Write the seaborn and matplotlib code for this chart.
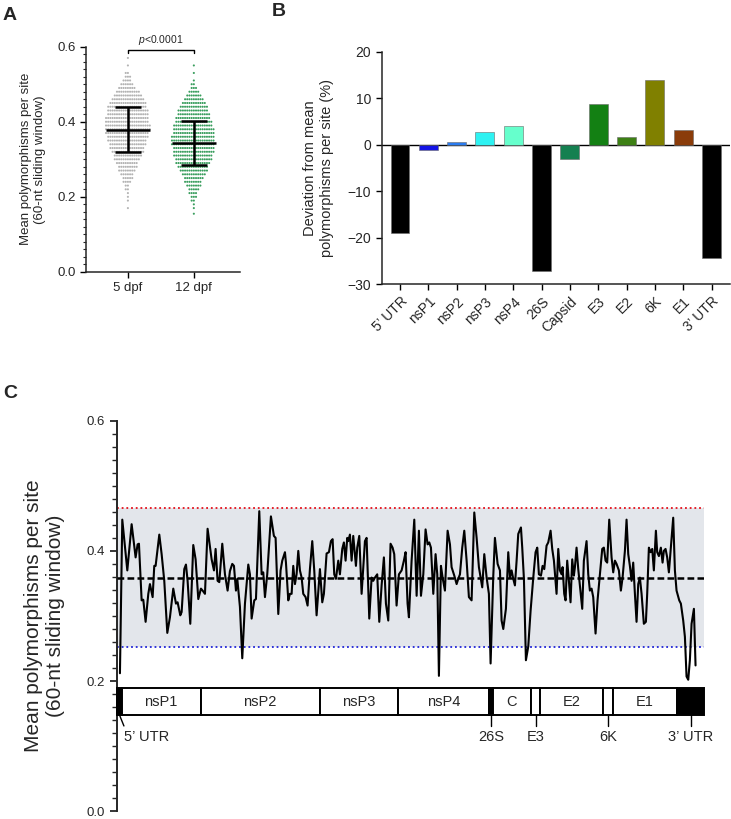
import numpy as np
import pandas as pd
import matplotlib
matplotlib.use("Agg")
import matplotlib.pyplot as plt
import seaborn as sns
from matplotlib.patches import Rectangle
from matplotlib.ticker import MultipleLocator

sns.set_style("ticks")
plt.rcParams["font.family"] = ["Liberation Sans", "DejaVu Sans"]
plt.rcParams["mathtext.fontset"] = "custom"
plt.rcParams["mathtext.it"] = "Liberation Sans:italic"
plt.rcParams["mathtext.rm"] = "Liberation Sans"

# ---------------- Panel A data (binned swarm) ----------------
groups = ["5 dpf", "12 dpf"]
bins_5dpf = [0.57, 0.55, 0.53, 0.52, 0.51, 0.50, 0.49, 0.48, 0.47, 0.46, 0.45, 0.44, 0.43,
             0.42, 0.41, 0.40, 0.39, 0.38, 0.37, 0.36, 0.35, 0.34, 0.33, 0.32, 0.31, 0.30,
             0.29, 0.28, 0.27, 0.26, 0.25, 0.24, 0.23, 0.22, 0.21, 0.20, 0.19, 0.17]
counts_5dpf = [1, 1, 2, 3, 4, 6, 8, 11, 13, 15, 17, 18, 19,
               19, 20, 20, 21, 21, 20, 19, 18, 17, 16, 15, 13, 12,
               10, 9, 8, 6, 5, 4, 2, 2, 1, 1, 1, 1]
bins_12dpf = [0.55, 0.53, 0.51, 0.50, 0.49, 0.48, 0.47, 0.46, 0.45, 0.44, 0.43, 0.42, 0.41,
              0.40, 0.39, 0.38, 0.37, 0.36, 0.35, 0.34, 0.33, 0.32, 0.31, 0.30, 0.29, 0.28,
              0.27, 0.26, 0.25, 0.24, 0.23, 0.22, 0.21, 0.20, 0.19, 0.18, 0.17, 0.155]
counts_12dpf = [1, 1, 1, 2, 3, 5, 7, 9, 11, 13, 14, 15, 16,
                17, 18, 19, 19, 20, 20, 20, 19, 19, 18, 17, 16, 14,
                13, 11, 9, 8, 7, 5, 4, 3, 2, 1, 1, 1]
group_mean = [0.379, 0.344]
group_sd = [0.060, 0.058]
p_text = "$p$<0.0001"

# ---------------- Panel B data ----------------
regions = ["5\u2019 UTR", "nsP1", "nsP2", "nsP3", "nsP4", "26S", "Capsid", "E3", "E2", "6K", "E1", "3\u2019 UTR"]
deviation = [-19.0, -1.2, 0.6, 2.7, 4.0, -27.1, -3.2, 8.8, 1.7, 14.0, 3.2, -24.3]
region_colors = ["#000000", "#1414e6", "#2b7cf0", "#2ef2f2", "#66ffcc", "#000000",
                 "#148050", "#138013", "#3d8014", "#808000", "#8a3c0a", "#000000"]

# ---------------- Panel C data ----------------
window_pos = [
    60, 107, 208, 295, 375, 415, 442, 496, 529, 576, 630, 663, 717, 750, 777, 851, 898, 951, 1012, 1065,
    1132, 1186, 1219, 1273, 1300, 1353, 1387, 1420, 1474, 1534, 1581, 1635, 1688, 1722, 1769, 1822, 1903,
    1950, 1983, 2023, 2057, 2117, 2171, 2224, 2271, 2318, 2352, 2392, 2419, 2472, 2519, 2573, 2640, 2673,
    2707, 2760, 2794, 2861, 2908, 2941,
    2975, 3021, 3095, 3155, 3189, 3243, 3289, 3323, 3377, 3397, 3444, 3477, 3511, 3544, 3578, 3611, 3645,
    3678, 3712, 3745, 3792, 3832, 3879, 3926, 3966, 4013, 4053, 4080, 4127, 4160, 4214, 4261, 4301, 4335,
    4368, 4402, 4449, 4482, 4529, 4562, 4596, 4629, 4650, 4683, 4717, 4750, 4804, 4830, 4871, 4918, 4985,
    5018, 5072, 5119, 5152, 5186, 5232, 5273, 5320, 5366, 5407, 5454, 5500, 5541, 5574, 5621, 5668, 5722,
    5768, 5802, 5842,
    5869, 5923, 5977, 6024, 6070, 6111, 6158, 6204, 6245, 6278, 6312, 6359, 6405, 6439, 6472, 6513, 6546,
    6593, 6647, 6694, 6727, 6781, 6828, 6861, 6895, 6941, 6982, 7029, 7075, 7129, 7183, 7230, 7276, 7343,
    7384, 7431, 7477, 7511, 7565, 7598, 7652, 7699, 7732, 7766, 7819, 7866, 7900, 7933, 7967, 8000, 8034,
    8067, 8121, 8147, 8181, 8221, 8268, 8315, 8369, 8415, 8449, 8482, 8523, 8556, 8590, 8636, 8670, 8717,
    8750, 8784,
    8837, 8871, 8904, 8938, 8958, 8991, 9018, 9051, 9085, 9118, 9152, 9185, 9206, 9239, 9273, 9306, 9353,
    9386, 9440, 9474, 9507, 9541, 9574, 9621, 9661, 9708, 9755, 9788, 9822, 9855, 9896, 9943, 9976, 10010,
    10043, 10090, 10130, 10164, 10211, 10244, 10278, 10311, 10345, 10378, 10412, 10445, 10479, 10512,
    10546, 10592, 10633, 10659, 10693, 10726, 10760, 10793, 10834, 10860, 10894, 10934, 10968, 10994,
    11028, 11061, 11095, 11135, 11182, 11216, 11249, 11303, 11336, 11383, 11417, 11450, 11484, 11517,
    11551, 11598, 11631]
window_val = [
    0.212, 0.448, 0.370, 0.441, 0.390, 0.410, 0.411, 0.324, 0.325, 0.291, 0.334, 0.349, 0.329, 0.377, 0.377,
    0.425, 0.395, 0.354, 0.274, 0.298, 0.342, 0.319, 0.321, 0.301, 0.306, 0.372, 0.379, 0.354, 0.288, 0.409,
    0.387, 0.326, 0.342, 0.339, 0.334, 0.434, 0.387, 0.370, 0.403, 0.354, 0.352, 0.411, 0.364, 0.339, 0.369,
    0.380, 0.377, 0.339, 0.357, 0.314, 0.235, 0.319, 0.379, 0.364, 0.296, 0.324, 0.326, 0.461, 0.364, 0.367,
    0.329, 0.364, 0.453, 0.423, 0.420, 0.303, 0.370, 0.385, 0.398, 0.382, 0.324, 0.334, 0.334, 0.377, 0.349,
    0.364, 0.400, 0.370, 0.359, 0.334, 0.329, 0.316, 0.372, 0.415, 0.370, 0.301, 0.344, 0.372, 0.321, 0.334,
    0.396, 0.398, 0.415, 0.418, 0.364, 0.357, 0.385, 0.364, 0.403, 0.413, 0.385, 0.420, 0.415, 0.425, 0.385,
    0.423, 0.377, 0.405, 0.423, 0.334, 0.415, 0.420, 0.296, 0.359, 0.354, 0.359, 0.364, 0.291, 0.347, 0.390,
    0.319, 0.293, 0.411, 0.405, 0.395, 0.316, 0.364, 0.370, 0.385, 0.398, 0.319,
    0.298, 0.385, 0.448, 0.331, 0.431, 0.331, 0.364, 0.433, 0.410, 0.413, 0.405, 0.334, 0.395, 0.364, 0.208,
    0.377, 0.359, 0.339, 0.431, 0.410, 0.375, 0.362, 0.349, 0.357, 0.364, 0.405, 0.431, 0.385, 0.329, 0.324,
    0.459, 0.420, 0.375, 0.344, 0.395, 0.359, 0.334, 0.227, 0.362, 0.420, 0.380, 0.370, 0.293, 0.280, 0.311,
    0.398, 0.359, 0.370, 0.357, 0.347, 0.385, 0.426, 0.436, 0.405, 0.357, 0.232, 0.253, 0.308, 0.359, 0.398,
    0.405, 0.364, 0.362, 0.377, 0.372, 0.408, 0.413, 0.431, 0.403, 0.385,
    0.334, 0.403, 0.370, 0.364, 0.375, 0.334, 0.324, 0.385, 0.354, 0.321, 0.387, 0.362, 0.375, 0.405, 0.372,
    0.347, 0.311, 0.385, 0.415, 0.364, 0.339, 0.342, 0.329, 0.273, 0.324, 0.364, 0.403, 0.405, 0.385, 0.382,
    0.448, 0.390, 0.367, 0.385, 0.380, 0.370, 0.339, 0.359, 0.400, 0.448, 0.395, 0.377, 0.354, 0.382, 0.334,
    0.291, 0.349, 0.359, 0.334, 0.288, 0.291, 0.334, 0.405, 0.398, 0.403, 0.370, 0.431, 0.398, 0.392, 0.405,
    0.382, 0.400, 0.403, 0.390, 0.367, 0.405, 0.451, 0.370, 0.339, 0.324, 0.319, 0.293, 0.268, 0.207, 0.202,
    0.232, 0.288, 0.311, 0.224]
genome_mean = 0.359
genome_upper = 0.466
genome_lower = 0.252
genome_length = 11800

seg_names = ["5\u2019 UTR", "nsP1", "nsP2", "nsP3", "nsP4", "26S", "C", "E3", "E2", "6K", "E1", "3\u2019 UTR"]
seg_start = [0, 100, 1680, 4072, 5658, 7477, 7558, 8321, 8512, 9780, 9968, 11260]
seg_end = [100, 1680, 4072, 5658, 7477, 7558, 8321, 8512, 9780, 9968, 11260, 11800]
seg_fill = ["black", "white", "white", "white", "white", "black", "white", "white", "white", "white", "white", "black"]
seg_inner_label = [False, True, True, True, True, False, True, False, True, False, True, False]

# ---------------- Figure ----------------
fig = plt.figure(figsize=(7.31, 8.19), dpi=100)

# ===== Panel A =====
axA = fig.add_axes([0.1176, 0.668, 0.2107, 0.275])
dfA = pd.DataFrame({
    "group": np.repeat(groups, [sum(counts_5dpf), sum(counts_12dpf)]),
    "value": np.concatenate([np.repeat(bins_5dpf, counts_5dpf), np.repeat(bins_12dpf, counts_12dpf)]),
})
sns.swarmplot(data=dfA, x="group", y="value", hue="group", order=groups,
              palette={"5 dpf": "#b3b3b3", "12 dpf": "#3a9e5e"}, size=1.5,
              linewidth=0, legend=False, ax=axA, zorder=1)
for i, (m, s) in enumerate(zip(group_mean, group_sd)):
    axA.hlines(m, i - 0.33, i + 0.33, color="black", lw=1.8, zorder=3)
    axA.hlines([m - s, m + s], i - 0.2, i + 0.2, color="black", lw=1.8, zorder=3)
    axA.vlines(i, m - s, m + s, color="black", lw=1.8, zorder=3)
axA.plot([0, 0, 1, 1], [0.582, 0.591, 0.591, 0.582], color="black", lw=1.0, clip_on=False)
axA.text(0.5, 0.598, p_text, ha="center", va="bottom", fontsize=7.5)
axA.set_ylim(0, 0.6)
axA.set_xlim(-0.636, 1.70)
axA.yaxis.set_major_locator(MultipleLocator(0.2))
axA.yaxis.set_minor_locator(MultipleLocator(0.02))
axA.set_yticklabels([f"{v:.1f}" for v in axA.get_yticks()])
axA.set_xlabel("")
axA.set_ylabel("Mean polymorphisms per site\n(60-nt sliding window)", fontsize=9.5, labelpad=8)
axA.tick_params(axis="both", labelsize=9.5, width=1, length=4, color="black")
axA.tick_params(axis="y", which="minor", width=0.8, length=2.5)
sns.despine(ax=axA)
for sp in ["left", "bottom"]:
    axA.spines[sp].set_linewidth(1.1)

# ===== Panel B =====
axB = fig.add_axes([0.522, 0.6532, 0.4766, 0.2837])
sns.barplot(x=regions, y=deviation, hue=regions, order=regions,
            palette=dict(zip(regions, region_colors)), saturation=1, width=0.67,
            legend=False, ax=axB, edgecolor="#6a6a6a", linewidth=0.4)
axB.axhline(0, color="black", lw=1.0, zorder=0)
axB.set_ylim(-30, 20)
axB.set_xlim(-0.65, 11.65)
axB.set_yticks([-30, -20, -10, 0, 10, 20])
axB.set_xticks(range(len(regions)))
axB.set_xticklabels(regions, rotation=45, ha="right", rotation_mode="anchor")
axB.set_ylabel("Deviation from mean\npolymorphisms per site (%)", fontsize=10.5, labelpad=10)
axB.tick_params(axis="both", labelsize=10, width=1, length=4, color="black")
sns.despine(ax=axB)
for sp in ["left", "bottom"]:
    axB.spines[sp].set_linewidth(1.1)

# ===== Panel C =====
axC = fig.add_axes([0.160, 0.0095, 0.803, 0.4768])
axC.axhspan(genome_lower, genome_upper, color="#e3e6eb", zorder=0, lw=0)
axC.axhline(genome_upper, color="#e3101a", lw=1.3, ls=(0, (1, 1.6)), zorder=1)
axC.axhline(genome_lower, color="#1f24d6", lw=1.3, ls=(0, (1, 1.6)), zorder=1)
dfC = pd.DataFrame({"pos": window_pos, "val": window_val})
sns.lineplot(data=dfC, x="pos", y="val", color="black", lw=1.5, ax=axC, zorder=2)
axC.axhline(genome_mean, color="black", lw=1.8, ls=(0, (2.7, 1.3)), zorder=3)

bar_lo, bar_hi = 0.148, 0.189
for name, s, e, fc, inner in zip(seg_names, seg_start, seg_end, seg_fill, seg_inner_label):
    axC.add_patch(Rectangle((s, bar_lo), e - s, bar_hi - bar_lo, facecolor=fc,
                            edgecolor="black", lw=1.4, clip_on=False, zorder=4))
    mid = (s + e) / 2
    if inner:
        axC.text(mid, (bar_lo + bar_hi) / 2, name, ha="center", va="center", fontsize=10.5, zorder=5)
    elif name.startswith("5"):
        axC.plot([s + 50, s + 140], [bar_lo, 0.131], color="black", lw=1.0)
        axC.text(s + 150, 0.114, name, ha="left", va="center", fontsize=10.5)
    else:
        axC.plot([mid, mid], [bar_lo, 0.131], color="black", lw=1.0)
        axC.text(mid, 0.114, name, ha="center", va="center", fontsize=10.5)

axC.set_xlim(0, genome_length)
axC.set_ylim(0, 0.6)
axC.yaxis.set_major_locator(MultipleLocator(0.2))
axC.yaxis.set_minor_locator(MultipleLocator(0.02))
axC.set_yticklabels([f"{v:.1f}" for v in axC.get_yticks()])
axC.set_xticks([])
axC.set_xlabel("")
axC.set_ylabel("Mean polymorphisms per site\n(60-nt sliding window)", fontsize=15, labelpad=16)
axC.tick_params(axis="y", labelsize=9.5, width=1.1, length=5, color="black")
axC.tick_params(axis="y", which="minor", width=1.0, length=3.5)
sns.despine(ax=axC, bottom=True)
axC.spines["left"].set_linewidth(1.4)

# Panel letters
fig.text(0.004, 0.992, "A", fontsize=14, fontweight="bold", va="top", ha="left")
fig.text(0.372, 0.996, "B", fontsize=14, fontweight="bold", va="top", ha="left")
fig.text(0.004, 0.530, "C", fontsize=14, fontweight="bold", va="top", ha="left")

fig.savefig("out.png", dpi=100)
